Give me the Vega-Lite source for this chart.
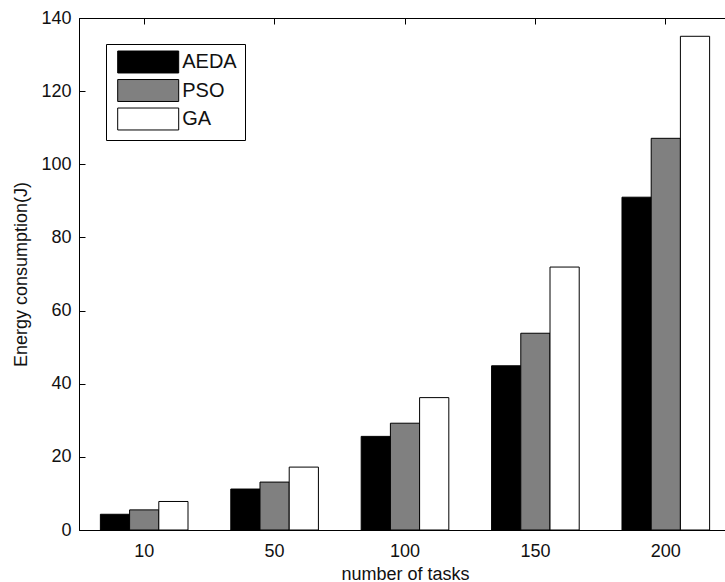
{
  "$schema": "https://vega.github.io/schema/vega-lite/v6.json",
  "autosize": "none",
  "width": 652,
  "height": 512,
  "padding": {"left": 79, "top": 18, "right": 0, "bottom": 52},
  "background": "white",
  "config": {
    "view": {"stroke": "black", "strokeWidth": 1},
    "font": "Liberation Sans",
    "axis": {
      "domainColor": "black",
      "tickColor": "black",
      "tickSize": -6,
      "labelColor": "#111",
      "titleColor": "#111",
      "labelFont": "Liberation Sans",
      "titleFont": "Liberation Sans",
      "labelFontSize": 18,
      "titleFontSize": 18,
      "titleFontWeight": "normal",
      "grid": false
    },
    "legend": {
      "labelFont": "Liberation Sans",
      "labelFontSize": 20,
      "labelColor": "#111"
    }
  },
  "data": {
    "values": [
      {"tasks": "10", "alg": "AEDA", "energy": 4.3},
      {"tasks": "10", "alg": "PSO", "energy": 5.5},
      {"tasks": "10", "alg": "GA", "energy": 7.8},
      {"tasks": "50", "alg": "AEDA", "energy": 11.2},
      {"tasks": "50", "alg": "PSO", "energy": 13.1},
      {"tasks": "50", "alg": "GA", "energy": 17.2},
      {"tasks": "100", "alg": "AEDA", "energy": 25.6},
      {"tasks": "100", "alg": "PSO", "energy": 29.2},
      {"tasks": "100", "alg": "GA", "energy": 36.2},
      {"tasks": "150", "alg": "AEDA", "energy": 44.9},
      {"tasks": "150", "alg": "PSO", "energy": 53.8},
      {"tasks": "150", "alg": "GA", "energy": 71.9},
      {"tasks": "200", "alg": "AEDA", "energy": 91.0},
      {"tasks": "200", "alg": "PSO", "energy": 107.1},
      {"tasks": "200", "alg": "GA", "energy": 135.0}
    ]
  },
  "layer": [
    {
      "mark": {"type": "bar", "stroke": "black", "strokeWidth": 1},
      "encoding": {
        "x": {
          "field": "tasks", "type": "ordinal", "sort": ["10", "50", "100", "150", "200"],
          "scale": {"paddingInner": 0.328, "paddingOuter": 0.164},
          "axis": {"title": "number of tasks", "labelAngle": 0, "labelPadding": 18, "titlePadding": 5}
        },
        "xOffset": {"field": "alg", "type": "nominal", "sort": ["AEDA", "PSO", "GA"], "scale": {"paddingInner": 0, "paddingOuter": 0}},
        "y": {
          "field": "energy", "type": "quantitative",
          "scale": {"domain": [0, 140], "nice": false},
          "axis": {"title": "Energy consumption(J)", "values": [0, 20, 40, 60, 80, 100, 120, 140], "labelPadding": 14, "titlePadding": 10}
        },
        "color": {
          "field": "alg", "type": "nominal", "sort": ["AEDA", "PSO", "GA"],
          "scale": {"domain": ["AEDA", "PSO", "GA"], "range": ["#000000", "#808080", "#ffffff"]},
          "legend": {
            "title": null,
            "orient": "none",
            "legendX": 27,
            "legendY": 26,
            "padding": 8,
            "strokeColor": "black",
            "fillColor": "white",
            "symbolType": "M-4,-1.44H4V1.44H-4Z",
            "symbolSize": 232.56,
            "symbolOffset": 24.2,
            "symbolStrokeColor": "black",
            "symbolStrokeWidth": 1,
            "labelOffset": 24,
            "rowPadding": 2.5
          }
        }
      }
    },
    {
      "mark": {"type": "bar", "opacity": 0},
      "encoding": {
        "x": {
          "field": "tasks", "type": "ordinal", "sort": ["10", "50", "100", "150", "200"],
          "axis": {"orient": "top", "labels": false, "title": null}
        },
        "xOffset": {"field": "alg", "type": "nominal", "sort": ["AEDA", "PSO", "GA"]},
        "y": {
          "field": "energy", "type": "quantitative",
          "axis": {"orient": "right", "labels": false, "title": null, "values": [0, 20, 40, 60, 80, 100, 120, 140]}
        }
      }
    }
  ],
  "resolve": {"axis": {"x": "independent", "y": "independent"}}
}
